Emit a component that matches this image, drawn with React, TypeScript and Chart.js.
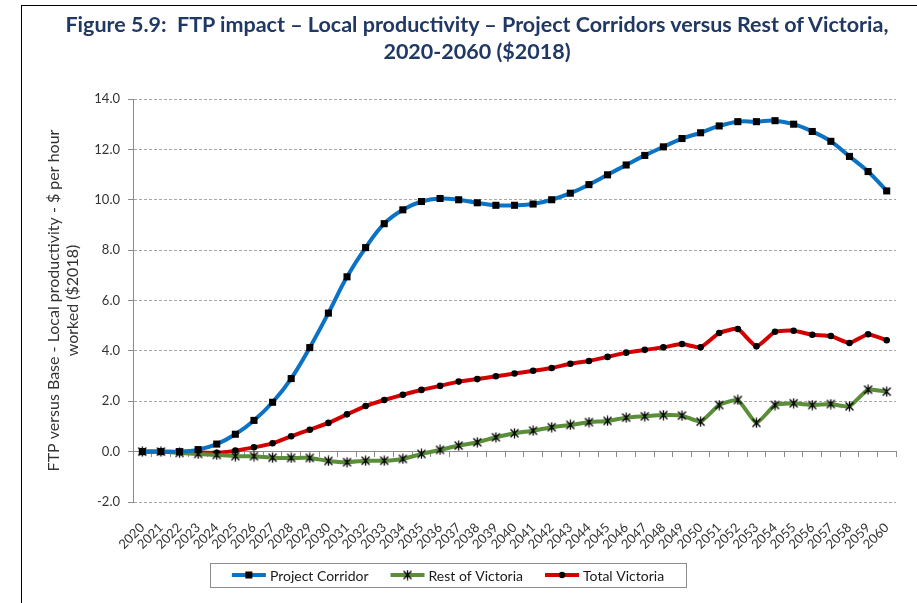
import { useEffect, useRef } from "react";
import { Chart, registerables } from "chart.js";

Chart.register(...registerables);

const years = [
  "2020", "2021", "2022", "2023", "2024", "2025", "2026", "2027", "2028", "2029",
  "2030", "2031", "2032", "2033", "2034", "2035", "2036", "2037", "2038", "2039",
  "2040", "2041", "2042", "2043", "2044", "2045", "2046", "2047", "2048", "2049",
  "2050", "2051", "2052", "2053", "2054", "2055", "2056", "2057", "2058", "2059",
  "2060",
];

const projectCorridor = [
  0.0, 0.0, 0.0, 0.08, 0.3, 0.69, 1.24, 1.96, 2.9, 4.13,
  5.5, 6.94, 8.1, 9.05, 9.6, 9.93, 10.05, 10.0, 9.88, 9.78,
  9.78, 9.83, 10.0, 10.26, 10.6, 10.99, 11.38, 11.76, 12.1, 12.43,
  12.66, 12.93, 13.1, 13.1, 13.14, 13.0, 12.71, 12.32, 11.72, 11.12,
  10.35,
];

const restOfVictoria = [
  0.0, 0.0, -0.05, -0.09, -0.13, -0.18, -0.18, -0.24, -0.25, -0.25,
  -0.37, -0.42, -0.36, -0.36, -0.29, -0.09, 0.07, 0.24, 0.37, 0.57,
  0.73, 0.83, 0.97, 1.06, 1.17, 1.22, 1.35, 1.4, 1.45, 1.43,
  1.19, 1.85, 2.05, 1.14, 1.85, 1.92, 1.85, 1.89, 1.8, 2.46,
  2.38,
];

const totalVictoria = [
  0.0, 0.0, -0.02, -0.03, -0.05, 0.04, 0.17, 0.33, 0.61, 0.87,
  1.14, 1.48, 1.81, 2.05, 2.26, 2.45, 2.61, 2.78, 2.88, 2.99,
  3.1, 3.21, 3.32, 3.49, 3.6, 3.76, 3.93, 4.04, 4.14, 4.27,
  4.14, 4.71, 4.87, 4.18, 4.76, 4.8, 4.64, 4.59, 4.31, 4.66,
  4.42,
];

const seriesLabels = ["Project Corridor", "Rest of Victoria", "Total Victoria"];
const seriesColors = ["#0B72C4", "#5A8E38", "#D20000"];

const titleLines = [
  "Figure 5.9:  FTP impact \u2013 Local productivity \u2013 Project Corridors versus Rest of Victoria,",
  "2020-2060 ($2018)",
];
const yTitleLines = ["FTP versus Base - Local productivity - $ per hour", "worked ($2018)"];
const yMin = -2;
const yMax = 14;
const yStep = 2;

function makeAsterisk(): HTMLCanvasElement {
  const c = document.createElement("canvas");
  c.width = 11;
  c.height = 11;
  const g = c.getContext("2d")!;
  g.strokeStyle = "#000";
  g.lineWidth = 1.3;
  g.beginPath();
  g.moveTo(1.5, 1.5);
  g.lineTo(9.5, 9.5);
  g.moveTo(9.5, 1.5);
  g.lineTo(1.5, 9.5);
  g.moveTo(5.5, 0.5);
  g.lineTo(5.5, 10.5);
  g.stroke();
  return c;
}

export default function App() {
  const ref = useRef<HTMLCanvasElement | null>(null);

  useEffect(() => {
    if (!ref.current) return;
    const asterisk = makeAsterisk();

    const drawMarker = (ctx: CanvasRenderingContext2D, i: number, x: number, y: number) => {
      ctx.fillStyle = "#000";
      if (i === 0) {
        ctx.fillRect(x - 3.5, y - 3.5, 7, 7);
      } else if (i === 1) {
        ctx.drawImage(asterisk, x - 5.5, y - 5.5);
      } else {
        ctx.beginPath();
        ctx.arc(x, y, 3.2, 0, Math.PI * 2);
        ctx.fill();
      }
    };

    const boxLegend = {
      id: "boxLegend",
      afterDraw(chart: any) {
        const ctx: CanvasRenderingContext2D = chart.ctx;
        const ds = chart.data.datasets;
        ctx.save();
        ctx.font = "14px Lato";
        const lineLen = 34;
        const gap = 4;
        const spacing = 22;
        const widths = ds.map((d: any) => lineLen + gap + ctx.measureText(d.label).width);
        const total = widths.reduce((a: number, b: number) => a + b, 0) + spacing * (ds.length - 1);
        const cx = 448;
        const cy = 575;
        const boxW = 476;
        const boxH = 24;
        ctx.strokeStyle = "#8c8c8c";
        ctx.lineWidth = 1;
        ctx.strokeRect(Math.round(cx - boxW / 2) + 0.5, Math.round(cy - boxH / 2) + 0.5, boxW, boxH);
        let x = cx - total / 2;
        ds.forEach((d: any, i: number) => {
          ctx.strokeStyle = d.borderColor;
          ctx.lineWidth = 4;
          ctx.beginPath();
          ctx.moveTo(x, cy);
          ctx.lineTo(x + lineLen, cy);
          ctx.stroke();
          drawMarker(ctx, i, x + lineLen / 2, cy);
          ctx.fillStyle = "#1a1a1a";
          ctx.textBaseline = "middle";
          ctx.textAlign = "left";
          ctx.fillText(d.label, x + lineLen + gap, cy + 1);
          x += widths[i] + spacing;
        });
        ctx.restore();
      },
    };

    const chart = new Chart(ref.current, {
      type: "line",
      data: {
        labels: years,
        datasets: [
          {
            label: seriesLabels[0],
            data: projectCorridor,
            borderColor: seriesColors[0],
            backgroundColor: seriesColors[0],
            borderWidth: 4,
            tension: 0.4,
            pointStyle: "rect",
            pointRadius: 5,
            pointBackgroundColor: "#000",
            pointBorderWidth: 0,
          },
          {
            label: seriesLabels[1],
            data: restOfVictoria,
            borderColor: seriesColors[1],
            backgroundColor: seriesColors[1],
            borderWidth: 4,
            tension: 0.15,
            borderJoinStyle: "round",
            pointStyle: asterisk,
            pointRadius: 5,
            pointBorderWidth: 0,
          },
          {
            label: seriesLabels[2],
            data: totalVictoria,
            borderColor: seriesColors[2],
            backgroundColor: seriesColors[2],
            borderWidth: 4,
            tension: 0.15,
            borderJoinStyle: "round",
            pointStyle: "circle",
            pointRadius: 3.3,
            pointBackgroundColor: "#000",
            pointBorderWidth: 0,
          },
        ],
      },
      options: {
        animation: false,
        responsive: false,
        maintainAspectRatio: false,
        events: [],
        layout: { padding: { left: 22, right: 21, top: 99, bottom: 51 } },
        plugins: {
          legend: { display: false },
          tooltip: { enabled: false },
          title: { display: false },
        },
        scales: {
          x: {
            type: "category",
            position: "bottom",
            offset: true,
            grid: { display: false, drawTicks: false },
            border: { display: false },
            ticks: {
              autoSkip: false,
              maxRotation: 45,
              minRotation: 45,
              padding: 18,
              color: "#333",
              font: { family: "Lato", size: 13 },
            },
            afterFit: (s: any) => {
              s.height = 50;
            },
          },
          x2: {
            type: "category",
            position: { y: 0 },
            offset: true,
            grid: { drawOnChartArea: false, drawTicks: true, tickLength: 5, offset: true, color: "#8c8c8c" },
            ticks: { display: false },
            border: { display: true, color: "#8c8c8c", width: 1 },
          },
          y: {
            min: yMin,
            max: yMax,
            ticks: {
              stepSize: yStep,
              padding: 8,
              color: "#333",
              font: { family: "Lato", size: 13 },
              callback: (v: any) => Number(v).toFixed(1),
            },
            grid: { color: "#a6a6a6", tickLength: 5, tickColor: "#8c8c8c", tickBorderDash: [] },
            border: { display: true, color: "#8c8c8c", width: 1, dash: [3, 2] },
            title: {
              display: true,
              text: yTitleLines,
              color: "#333",
              font: { family: "Lato", size: 16, lineHeight: 1.2 },
              padding: { top: 22, bottom: 0 },
            },
            afterFit: (s: any) => {
              s.width = 111;
            },
          },
        },
      },
      plugins: [boxLegend],
    } as any);

    return () => chart.destroy();
  }, []);

  return (
    <div style={{ position: "absolute", left: 0, top: 0, width: 917, height: 603, background: "#fff" }}>
      <div
        style={{
          position: "absolute",
          left: 21,
          top: 5,
          right: 0,
          bottom: 0,
          borderLeft: "1px solid #000",
          borderTop: "1px solid #000",
        }}
      />
      <canvas ref={ref} width={917} height={603} style={{ position: "absolute", left: 0, top: 0 }} />
      <div
        style={{
          position: "absolute",
          left: 37,
          top: 11,
          width: 880,
          textAlign: "center",
          fontFamily: "Lato",
          fontWeight: "bold",
          fontSize: 21.5,
          lineHeight: "27px",
          color: "#1F3864",
          whiteSpace: "pre",
        }}
      >
        <div>{titleLines[0]}</div>
        <div>{titleLines[1]}</div>
      </div>
    </div>
  );
}
